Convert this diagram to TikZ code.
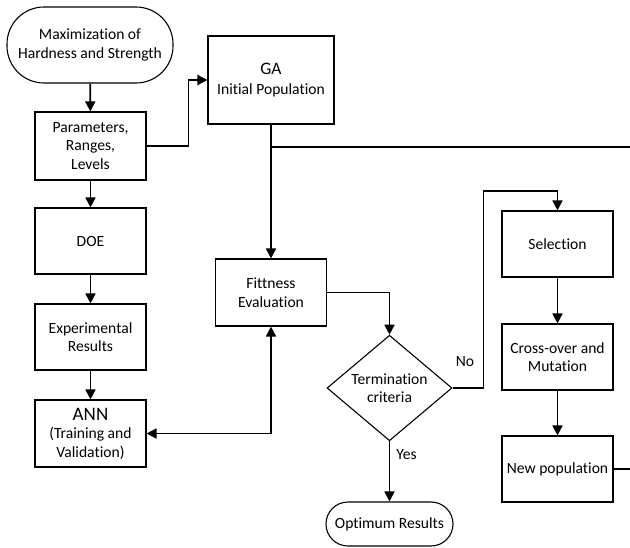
\documentclass[tikz,border=0pt]{standalone}
\usepackage{fontspec}
\setmainfont{Carlito}[Ligatures=NoCommon]
\usetikzlibrary{arrows.meta,shapes.geometric,calc}
\begin{document}
\begin{tikzpicture}[x=1pt,y=-1pt,
  every node/.style={font=\fontsize{15.6}{18.5}\selectfont, align=center, inner sep=2pt},
  box/.style={draw, line width=1.1pt, rectangle, minimum width=111pt, minimum height=66pt},
  term/.style={draw, line width=1.1pt, rectangle, rounded corners=#1},
  dec/.style={draw, line width=1.1pt, diamond, minimum width=125pt, minimum height=96pt, inner sep=0pt},
  conn/.style={line width=1.6pt},
  arr/.style={conn, -{Triangle[length=10pt,width=10pt]}},
  arrb/.style={conn, {Triangle[length=10pt,width=10pt]}-{Triangle[length=10pt,width=10pt]}}
]
\useasboundingbox (0,0) rectangle (630,547);

\node[term=37pt, minimum width=166pt, minimum height=76pt] (start) at (90,45) {Maximization of\\Hardness and Strength};
\node[box, minimum height=68pt] (params) at (90.5,146) {Parameters,\\Ranges,\\Levels};
\node[box] (doe) at (90.5,241) {DOE};
\node[box] (exp) at (90.5,337) {Experimental\\Results};
\node[box, minimum height=67pt] (ann) at (90.5,433.5) {{\fontsize{19}{20}\selectfont ANN}\\(Training and\\Validation)};

\node[box, minimum width=126pt, minimum height=88pt] (ga) at (271,80) {{\fontsize{17.5}{20}\selectfont GA}\\[1.5pt]Initial Population};
\node[box, minimum height=67pt] (fit) at (271,292.5) {Fittness\\Evaluation};
\node[dec] (dia) at (389.5,388) {Termination\\criteria};
\node[term=22pt, minimum width=127pt, minimum height=44pt] (opt) at (389.5,524) {Optimum Results};

\node[box] (sel) at (557.5,244) {Selection};
\node[box] (cross) at (557.5,357) {Cross-over and\\Mutation};
\node[box] (newp) at (557.5,469) {New population};

\coordinate (edgeA) at (630,147);
\coordinate (edgeB) at (630,469);
\coordinate (loopTop) at (557.5,191);

\draw[arr] (start) -- (params);
\draw[arr] (params) -- (doe);
\draw[arr] (doe) -- (exp);
\draw[arr] (exp) -- (ann);
\draw[arr] (params.east) -- ++(42,0) |- (ga.west);
\draw[arr] (ga) -- (fit);
\draw[conn] (ga.south |- edgeA) -- (edgeA);
\draw[arr] (fit.east) -| (dia.north);
\draw[arr] (dia) -- node[pos=0.22, right=4pt] {Yes} (opt);
\draw[arr] (dia.east) -- ++(31,0) |- (loopTop) -- (sel.north);
\node (no) at (465,362) {No};
\draw[arr] (sel) -- (cross);
\draw[arr] (cross) -- (newp);
\draw[conn] (newp.east) -- (edgeB);
\draw[arrb] (ann.east) -| (fit.south);
\end{tikzpicture}
\end{document}
